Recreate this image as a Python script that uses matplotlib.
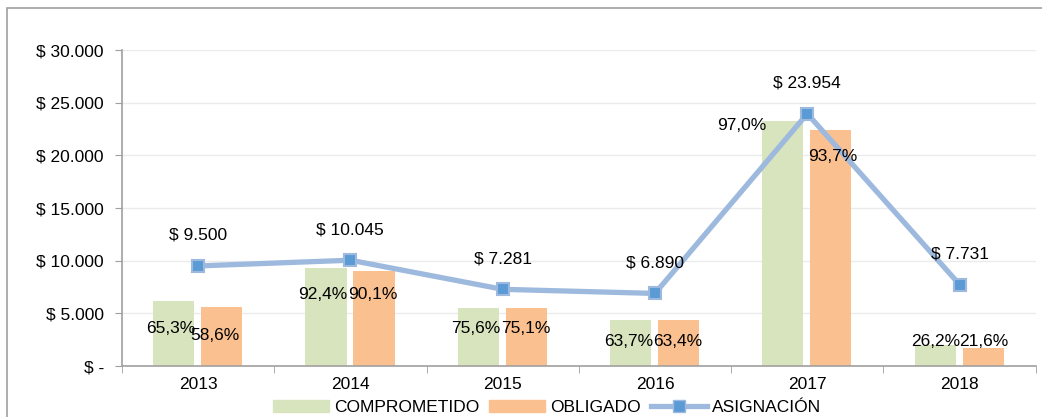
import matplotlib.pyplot as plt
import numpy as np
from matplotlib.patches import Rectangle
from matplotlib.lines import Line2D
from matplotlib.ticker import FuncFormatter

plt.rcParams['font.family'] = ['Liberation Sans Narrow', 'Liberation Sans', 'DejaVu Sans']

# Datos (millones de pesos)
years = ['2013', '2014', '2015', '2016', '2017', '2018']
asignacion = [9500, 10045, 7281, 6890, 23954, 7731]
comprometido = [6203, 9282, 5504, 4389, 23235, 2026]
obligado = [5567, 9051, 5468, 4368, 22445, 1670]
pct_comp = ['65,3%', '92,4%', '75,6%', '63,7%', '97,0%', '26,2%']
pct_oblig = ['58,6%', '90,1%', '75,1%', '63,4%', '93,7%', '21,6%']
asig_labels = ['$ 9.500', '$ 10.045', '$ 7.281', '$ 6.890', '$ 23.954', '$ 7.731']

# posiciones de las etiquetas de porcentaje (x relativo, y en datos)
comp_lab_dx = [-0.18, -0.18, -0.18, -0.17, -0.43, -0.16]
comp_lab_y = [3600, 6750, 3600, 2370, 22800, 2280]
oblig_lab_dx = [0.11, 0.15, 0.15, 0.15, 0.17, 0.16]
oblig_lab_y = [2850, 6750, 3600, 2370, 19850, 2280]

green = '#D7E4BD'
orange = '#FAC090'
line_c = '#9DB9DE'
marker_c = '#5B9BD5'

fig = plt.figure(figsize=(10.42, 4.17), dpi=100)
fig.patches.append(Rectangle((7 / 1042, -0.05), 1.1, 1 - 8 / 417 + 0.05, transform=fig.transFigure,
                             fill=False, edgecolor='#A0A0A0', linewidth=1.2))
ax = fig.add_axes([0.117, 0.1223, 0.877, 0.7577])

x = np.arange(len(years))
w = 0.27
ax.bar(x - 0.16, comprometido, width=w, color=green, zorder=2, label='COMPROMETIDO')
ax.bar(x + 0.155, obligado, width=w, color=orange, zorder=2, label='OBLIGADO')
ax.plot(x, asignacion, color=line_c, linewidth=3.8, marker='s', markersize=8,
        markerfacecolor=marker_c, markeredgecolor=line_c, markeredgewidth=1.5, zorder=3,
        label='ASIGNACIÓN')

for i in range(len(years)):
    ax.text(x[i] + comp_lab_dx[i], comp_lab_y[i], pct_comp[i], ha='center', va='center',
            fontsize=12.5, zorder=4)
    ax.text(x[i] + oblig_lab_dx[i], oblig_lab_y[i], pct_oblig[i], ha='center', va='center',
            fontsize=12.5, zorder=4)
    ax.annotate(asig_labels[i], (x[i], asignacion[i]), xytext=(0, 22), textcoords='offset points',
                ha='center', va='center', fontsize=12.5, zorder=4)

ax.set_xlim(-0.5, len(years) - 0.5)
ax.set_ylim(0, 30000)
ax.set_yticks(np.arange(0, 30001, 5000))
ax.yaxis.set_major_formatter(FuncFormatter(
    lambda v, p: '$ -' if v == 0 else '$ ' + f'{int(v):,}'.replace(',', '.')))
ax.set_xticks(x)
ax.set_xticklabels(years)
ax.set_xticks(np.arange(-0.5, len(years)), minor=True)
ax.tick_params(axis='x', which='major', length=0, labelsize=12.5, pad=8)
ax.tick_params(axis='x', which='minor', length=5, color='#A0A0A0')
ax.tick_params(axis='y', length=5, color='#A0A0A0', labelsize=12.5, pad=8)
ax.grid(axis='y', color='#EBEBEB', linewidth=1, zorder=0)
for s in ['top', 'right']:
    ax.spines[s].set_visible(False)
for s in ['left', 'bottom']:
    ax.spines[s].set_color('#A0A0A0')
    ax.spines[s].set_linewidth(1.2)

handles = [Rectangle((0, 0), 1, 0.5, color=green), Rectangle((0, 0), 1, 0.5, color=orange),
           Line2D([], [], color=line_c, linewidth=3.8, marker='s', markersize=8,
                  markerfacecolor=marker_c, markeredgecolor=line_c)]
fig.legend(handles, ['COMPROMETIDO', 'OBLIGADO', 'ASIGNACIÓN'], loc='center',
           bbox_to_anchor=(0.525, 0.022), ncol=3, frameon=False, fontsize=12.5,
           handlelength=3.2, handletextpad=0.3, columnspacing=0.6, borderpad=0)

fig.savefig('out.png', dpi=100)
